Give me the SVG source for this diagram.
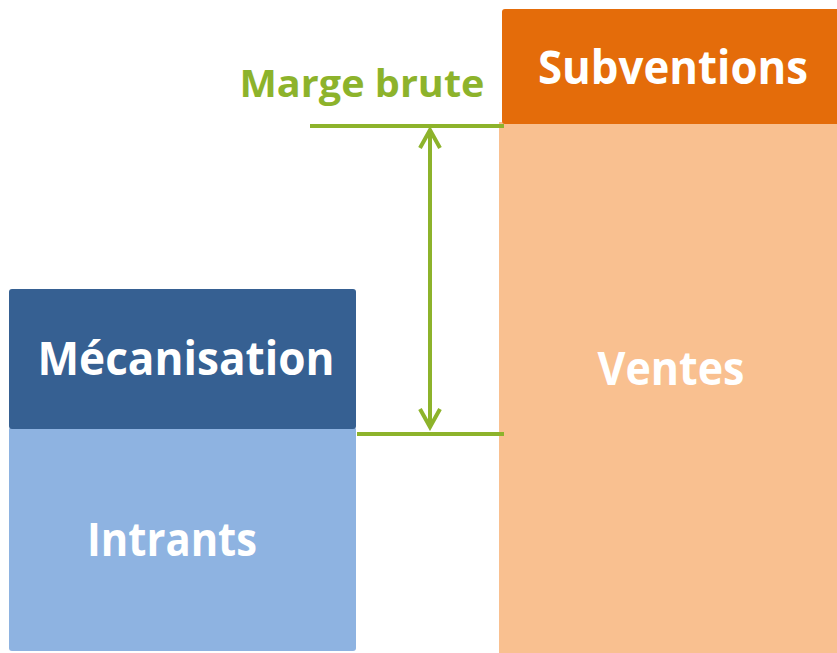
<svg xmlns="http://www.w3.org/2000/svg" width="837" height="653" viewBox="0 0 837 653">
<style>
.lbl{font-family:"Open Sans","Liberation Sans",sans-serif;font-weight:bold;fill:#ffffff;text-anchor:middle}
.conn{stroke:#8DB32B;stroke-width:4;fill:none}
</style>
<defs>
<marker id="v" viewBox="0 0 12 12" refX="10" refY="6" markerWidth="6" markerHeight="6" orient="auto-start-reverse" markerUnits="strokeWidth">
<path d="M1,1 L10,6 L1,11" fill="none" stroke="#8DB32B" stroke-width="2"/>
</marker>
</defs>
<rect width="837" height="653" fill="#ffffff"/>
<g id="ventes">
<rect x="499" y="122" width="340" height="533" fill="#F9C090"/>
<text class="lbl" x="671" y="385" font-size="46" textLength="147" lengthAdjust="spacingAndGlyphs">Ventes</text>
</g>
<g id="subventions">
<rect x="502" y="9" width="340" height="115" rx="3" fill="#E46C0A"/>
<text class="lbl" x="673" y="84" font-size="46" textLength="270" lengthAdjust="spacingAndGlyphs">Subventions</text>
</g>
<g id="intrants">
<rect x="9" y="427" width="347" height="224" rx="3" fill="#8EB3E1"/>
<text class="lbl" x="172" y="556" font-size="46" textLength="170" lengthAdjust="spacingAndGlyphs">Intrants</text>
</g>
<g id="mecanisation">
<rect x="9" y="289" width="347" height="140" rx="3" fill="#366092"/>
<text class="lbl" x="186" y="375" font-size="46" textLength="297" lengthAdjust="spacingAndGlyphs">Mécanisation</text>
</g>
<g id="marge-brute">
<text x="362" y="97" font-family="'Open Sans','Liberation Sans',sans-serif" font-weight="bold" font-size="38" fill="#8DB32B" text-anchor="middle" textLength="245" lengthAdjust="spacingAndGlyphs">Marge brute</text>
</g>
<g id="connectors">
<line class="conn" x1="310" y1="126" x2="504" y2="126"/>
<line class="conn" x1="357" y1="434" x2="504" y2="434" stroke="#9BC41E"/>
<line class="conn" x1="430" y1="130" x2="430" y2="427" marker-start="url(#v)" marker-end="url(#v)"/>
</g>
</svg>
